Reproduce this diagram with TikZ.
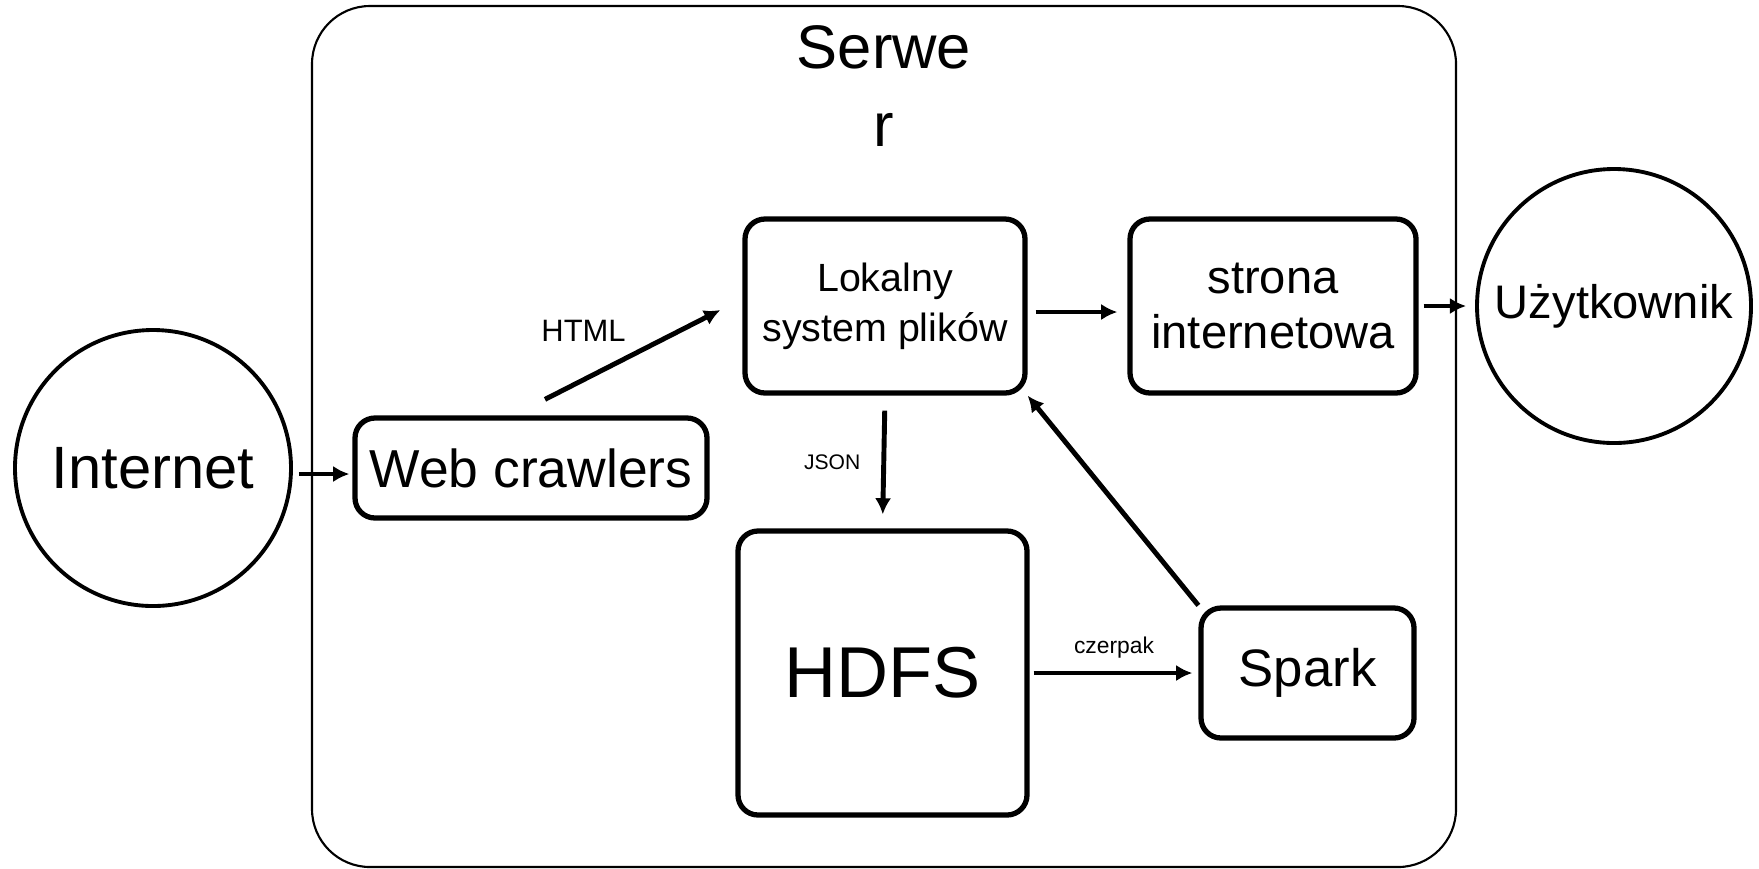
\documentclass[tikz,border=0pt]{standalone}
\usepackage{fontspec}
\setmainfont{Liberation Sans}
\usetikzlibrary{arrows.meta}
\tikzset{
  box/.style={draw, line width=1.5pt, rounded corners=0.2cm, align=center, inner sep=0pt},
  ring/.style={draw, circle, line width=1.1pt, inner sep=0pt},
  lab/.style={inner sep=0pt},
}
\begin{document}
\begin{tikzpicture}[>={Latex[length=4.6pt,width=4.6pt]}, line width=1.4pt]
\useasboundingbox (0,0) rectangle (17.59,-8.68);
\node[draw, line width=0.6pt, rounded corners=0.58cm, minimum width=11.44cm, minimum height=8.61cm] (server) at (8.84,-4.365) {};
\node[inner sep=0pt, align=center, font=\fontsize{17.5}{22}\selectfont] (title) at (8.84,-0.86) {Serwe\\r};

\node[ring, minimum size=2.76cm, font=\fontsize{17}{20}\selectfont] (internet) at (1.53,-4.68) {Internet};
\node[box, minimum width=3.52cm, minimum height=1cm, font=\fontsize{15.2}{18}\selectfont] (crawlers) at (5.31,-4.68) {Web crawlers};
\node[box, minimum width=2.8cm, minimum height=1.74cm, font=\fontsize{11.2}{14.2}\selectfont] (lokalny) at (8.85,-3.06) {Lokalny\\system plików};
\node[box, minimum width=2.86cm, minimum height=1.74cm, font=\fontsize{13.4}{15.4}\selectfont] (strona) at (12.73,-3.06) {strona\\internetowa};
\node[box, minimum width=2.89cm, minimum height=2.84cm, font=\fontsize{20.5}{24}\selectfont] (hdfs) at (8.825,-6.73) {HDFS};
\node[box, minimum width=2.13cm, minimum height=1.3cm, font=\fontsize{15}{18}\selectfont] (spark) at (13.075,-6.73) {Spark};
\node[ring, minimum size=2.74cm, font=\fontsize{13.4}{16}\selectfont] (user) at (16.14,-3.06) {Użytkownik};

\draw[->, shorten <=0.06cm, shorten >=0.03cm] ([yshift=-0.06cm]internet.east) -- ([yshift=-0.06cm]crawlers.west);
\draw[->] ([xshift=0.14cm,yshift=0.16cm]crawlers.north) -- node[lab, pos=0.22, above=0.36cm, font=\fontsize{8.8}{10}\selectfont]{HTML} ([xshift=-0.22cm,yshift=-0.04cm]lokalny.west);
\draw[->, shorten <=0.08cm, shorten >=0.1cm] ([yshift=-0.06cm]lokalny.east) -- ([yshift=-0.06cm]strona.west);
\draw[->, shorten <=0.05cm, shorten >=0.09cm] (strona.east) -- (user.west);
\draw[->, shorten <=0.15cm, shorten >=0.14cm] (lokalny.south) -- node[lab, left=0.21cm, font=\fontsize{6}{7}\selectfont]{JSON} (hdfs.north);
\draw[->, shorten <=0.04cm, shorten >=0.06cm] (hdfs.east) -- node[lab, above=0.12cm, font=\fontsize{6.5}{8}\selectfont]{czerpak} (spark.west);
\draw[->] (spark.north west) -- (lokalny.south east);

\end{tikzpicture}
\end{document}
